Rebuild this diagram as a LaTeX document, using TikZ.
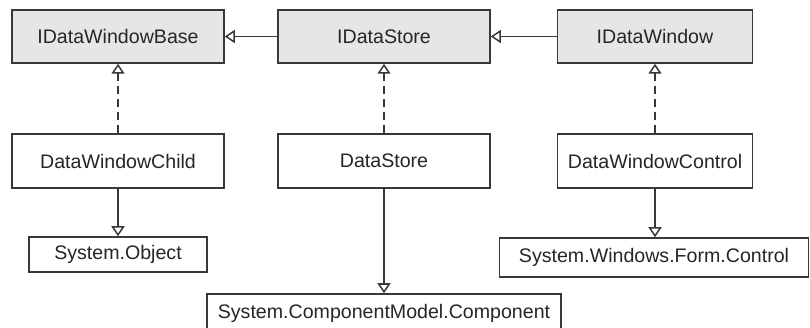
\documentclass[tikz,border=0pt]{standalone}
\usepackage{fontspec}
\setmainfont{Liberation Sans}
\usetikzlibrary{arrows.meta}
\definecolor{lc}{HTML}{383838}
\definecolor{tc}{HTML}{262626}
\definecolor{gf}{HTML}{E6E6E6}
\tikzset{
  box/.style={draw=lc, line width=1.5pt, text=tc, inner sep=0pt, font=\fontsize{19.6}{22}\selectfont, anchor=center},
  ibox/.style={box, fill=gf},
  wbox/.style={box, fill=white},
  inh/.style={draw=lc, line width=1.5pt, -{Triangle[open, length=10pt, width=13pt, fill=white, line width=1.5pt]}},
  impl/.style={inh, dash pattern=on 8pt off 5pt},
}
\begin{document}
\begin{tikzpicture}[x=1pt,y=-1pt]
\useasboundingbox (0,0) rectangle (810,328);
\node[ibox, minimum width=212pt, minimum height=53pt] (idwb) at (118,36.5) {IDataWindowBase};
\node[ibox, minimum width=212pt, minimum height=53pt] (ids) at (384,36.5) {IDataStore};
\node[ibox, minimum width=195pt, minimum height=53pt] (idw) at (655,36.5) {IDataWindow};
\node[wbox, minimum width=212pt, minimum height=54pt] (dwc) at (118,161) {DataWindowChild};
\node[wbox, minimum width=212pt, minimum height=54pt] (ds) at (384,161) {DataStore};
\node[wbox, minimum width=195pt, minimum height=54pt] (dwctl) at (655,161) {DataWindowControl};
\node[wbox, minimum width=178pt, minimum height=35pt] (obj) at (118,254.5) {System.Object};
\node[wbox, minimum width=309pt, minimum height=39pt] (ctl) at (654,257.5) {System.Windows.Form.Control};
\node[wbox, minimum width=354pt, minimum height=44pt, text depth=0pt] (cmp) at (384,316) {};
\node[text=tc, font=\fontsize{19.6}{22}\selectfont, anchor=base] (cmpt) at (384,318) {System.ComponentModel.Component};
\draw[inh] (ids) -- (idwb);
\draw[inh] (idw) -- (ids);
\draw[impl] (dwc) -- (idwb);
\draw[impl] (ds) -- (ids);
\draw[impl] (dwctl) -- (idw);
\draw[inh] (dwc) -- (obj);
\draw[inh] (ds) -- (cmp);
\draw[inh] (dwctl.south) -- (dwctl.south |- ctl.north);
\end{tikzpicture}
\end{document}
